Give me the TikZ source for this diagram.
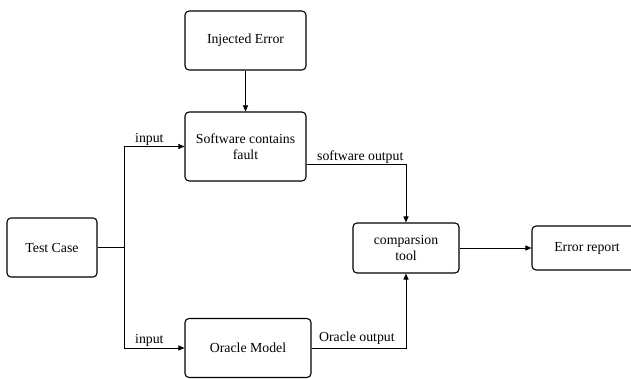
\documentclass[tikz,border=0pt]{standalone}
\usepackage{fontspec}
\setmainfont{Liberation Serif}
\usetikzlibrary{arrows.meta}
\begin{document}
\begin{tikzpicture}[x=1pt,y=-1pt,
  box/.style={draw, line width=1.1pt, rounded corners=4pt, align=center, inner sep=0pt, font=\fontsize{13.8}{15.5}\selectfont},
  conn/.style={draw, line width=1pt, -{Triangle[length=6pt,width=5pt]}},
  lbl/.style={font=\fontsize{13.8}{15}\selectfont, inner sep=1pt}]
\useasboundingbox (0,0) rectangle (631,379);
\node[box, minimum width=121pt, minimum height=59pt] (inj) at (245.5,40.5) {Injected Error};
\node[box, minimum width=121pt, minimum height=69pt] (sw) at (245.5,146.5) {Software contains\\fault};
\node[box, minimum width=90pt, minimum height=59pt] (tc) at (52,247.5) {Test Case};
\node[box, minimum width=126pt, minimum height=59pt] (om) at (248,348) {Oracle Model};
\node[box, minimum width=106pt, minimum height=50pt] (cmp) at (406,248) {comparsion\\tool};
\node[box, minimum width=110pt, minimum height=44pt] (er) at (587,248) {Error report};
\coordinate (j) at (124,247.5);
\draw[line width=1pt] (tc.east) -- (j);
\draw[conn] (inj) -- (sw);
\draw[conn] (j) |- (sw.west) node[lbl, pos=0.71, above] {input};
\draw[conn] (j) |- (om.west) node[lbl, pos=0.71, above] {input};
\draw[conn] (sw.east |- 0,165) -| (cmp.north) node[lbl, pos=0.27, above] {software output};
\draw[conn] (om.east) -| (cmp.south) node[lbl, pos=0.24, above, yshift=2pt] {Oracle output};
\draw[conn] (cmp.east) -- (er.west);
\end{tikzpicture}
\end{document}
